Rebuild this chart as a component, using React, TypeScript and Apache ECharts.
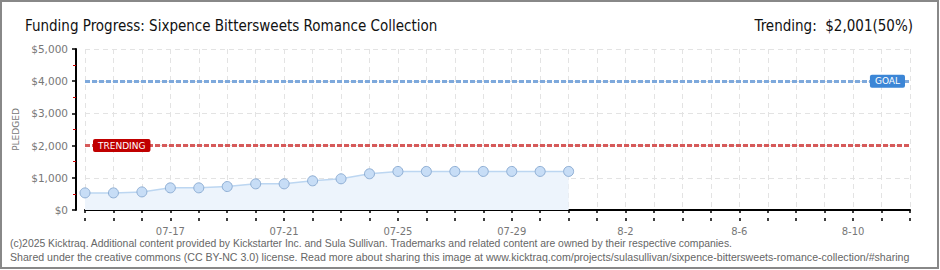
import React, { useEffect, useRef } from "react";
import * as echarts from "echarts";

const days = [
  "07-14", "07-15", "07-16", "07-17", "07-18", "07-19", "07-20", "07-21", "07-22", "07-23",
  "07-24", "07-25", "07-26", "07-27", "07-28", "07-29", "07-30", "07-31",
  "8-1", "8-2", "8-3", "8-4", "8-5", "8-6", "8-7", "8-8", "8-9", "8-10", "8-11", "8-12",
];
const tickLabels = ["07-17", "07-21", "07-25", "07-29", "8-2", "8-6", "8-10"];
const pledged = [531, 531, 562, 688, 688, 729, 812, 812, 906, 969, 1125, 1198, 1198, 1198, 1198, 1198, 1198, 1198];
const goal = 4000;
const trending = 2000;
const titleText = "Funding Progress: Sixpence Bittersweets Romance Collection";
const trendText = "Trending:  $2,001(50%)";
const footer1 =
  "(c)2025 Kicktraq. Additional content provided by Kickstarter Inc. and Sula Sullivan. Trademarks and related content are owned by their respective companies.";
const footer2 =
  "Shared under the creative commons (CC BY-NC 3.0) license. Read more about sharing this image at www.kicktraq.com/projects/sulasullivan/sixpence-bittersweets-romance-collection/#sharing";

const pixelFont = "DejaVu Sans";
const titleFont = "'DejaVu Sans Condensed', 'Liberation Sans Narrow', 'Roboto', sans-serif";
const footFont = "'Liberation Sans', sans-serif";

export default function App() {
  const ref = useRef<HTMLDivElement>(null);
  useEffect(() => {
    document.body.style.margin = "0";
    const chart = echarts.init(ref.current!, null, { renderer: "svg" });
    const fmt = (v: number) => "$" + v.toLocaleString("en-US");
    chart.setOption({
      animation: false,
      backgroundColor: "#ffffff",
      title: [
        { text: titleText, left: 20, top: 13, textStyle: { fontFamily: titleFont, fontSize: 15, fontWeight: "normal", color: "#111" } },
        { text: trendText, right: 22, top: 13, textStyle: { fontFamily: titleFont, fontSize: 15, fontWeight: "normal", color: "#111" } },
        { text: footer1, left: 10, top: 238, padding: 0, textStyle: { fontFamily: footFont, fontSize: 10.4, fontWeight: "normal", color: "#666" } },
        { text: footer2, left: 10, top: 251, padding: 0, textStyle: { fontFamily: footFont, fontSize: 10.6, fontWeight: "normal", color: "#666" } },
      ],
      graphic: [
        { type: "rect", shape: { x: 1, y: 1, width: 937, height: 267 }, style: { fill: "none", stroke: "#888", lineWidth: 2 }, silent: true },
      ],
      grid: { left: 85, right: 30, top: 49, bottom: 60 },
      xAxis: [
        {
          type: "category",
          data: days,
          boundaryGap: false,
          offset: 11,
          axisLine: { show: true, lineStyle: { color: "#000", width: 2 } },
          axisTick: { show: true, inside: false, length: 3, lineStyle: { color: "#000", width: 1.5 }, interval: 0 },
          axisLabel: {
            color: "#777",
            fontFamily: pixelFont,
            fontSize: 10,
            margin: 5,
            interval: (_i: number, v: string) => tickLabels.includes(v),
          },
          splitLine: { show: true, interval: 0, lineStyle: { color: "#e3e3e3", type: [5, 4], width: 1 } },
        },
        {
          type: "category",
          data: days,
          boundaryGap: false,
          position: "bottom",
          offset: 11,
          axisLine: { show: false },
          axisTick: { show: true, inside: true, length: 3, lineStyle: { color: "#000", width: 1.5 }, interval: 0 },
          axisLabel: { show: false },
          splitLine: { show: false },
        },
      ],
      yAxis: {
        type: "value",
        min: 0,
        max: 5000,
        interval: 1000,
        offset: 9,
        name: "PLEDGED",
        nameLocation: "middle",
        nameGap: 56,
        nameMoveOverlap: false,
        nameTextStyle: { color: "#777", fontFamily: pixelFont, fontSize: 9 },
        axisLine: { show: true, lineStyle: { color: "#000", width: 2 } },
        axisTick: { show: true, length: 4, lineStyle: { color: "#000", width: 1.5 } },
        minorTick: { show: true, splitNumber: 2, length: 3, lineStyle: { color: "#cc0000", width: 1 } },
        axisLabel: { color: "#777", fontFamily: pixelFont, fontSize: 10.5, margin: 8, formatter: fmt },
        splitLine: { show: true, lineStyle: { color: "#e3e3e3", type: [5, 4], width: 1 } },
      },
      series: [
        {
          type: "line",
          xAxisIndex: 0,
          data: pledged,
          symbol: "circle",
          symbolSize: 10,
          lineStyle: { color: "#bcd6f1", width: 1.5 },
          itemStyle: { color: "#c7ddf6", borderColor: "#8eaed4", borderWidth: 1 },
          areaStyle: { color: "#edf4fc", opacity: 1 },
          markLine: {
            silent: true,
            symbol: ["none", "none"],
            data: [
              {
                yAxis: goal,
                lineStyle: { color: "#7ea9dc", width: 3, type: [5, 2] },
                label: {
                  show: true,
                  formatter: "GOAL",
                  position: "insideEndTop",
                  distance: [5, 0],
                  verticalAlign: "middle",
                  color: "#fff",
                  fontFamily: pixelFont,
                  fontSize: 9,
                  backgroundColor: "#3c86d6",
                  borderRadius: 2,
                  padding: [2, 5, 2, 5],
                },
              },
              {
                yAxis: trending,
                lineStyle: { color: "#d65a5a", width: 3, type: [5, 2] },
                label: {
                  show: true,
                  formatter: "TRENDING",
                  position: "insideStartTop",
                  distance: [8, 0],
                  verticalAlign: "middle",
                  color: "#fff",
                  fontFamily: pixelFont,
                  fontSize: 9,
                  backgroundColor: "#c00000",
                  borderRadius: 2,
                  padding: [2, 5, 2, 5],
                },
              },
            ],
          },
        },
      ],
    });
    return () => chart.dispose();
  }, []);
  return <div ref={ref} style={{ width: 940, height: 270 }} />;
}
